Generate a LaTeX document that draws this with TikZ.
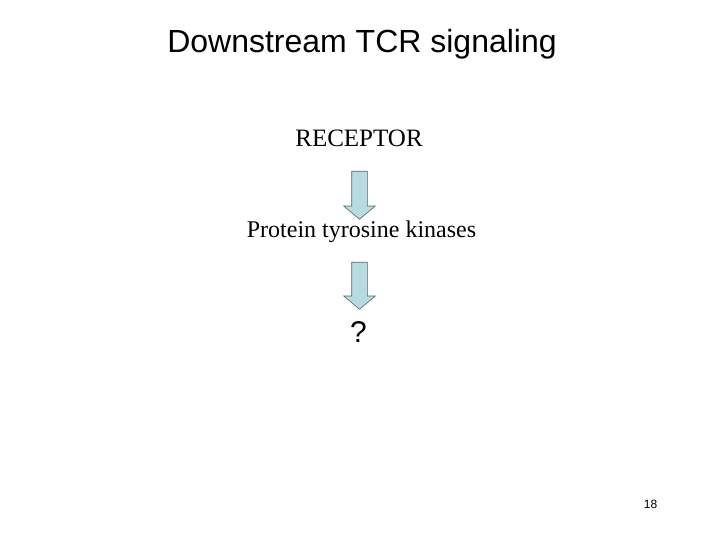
\documentclass[tikz,border=0pt]{standalone}
\usepackage{fontspec}
\setmainfont{Liberation Serif}
\setsansfont{Liberation Sans}
\usepackage{xcolor}
\usepackage{tikz}
\usetikzlibrary{shapes.arrows, positioning}

\definecolor{arrowfill}{RGB}{183,219,224}
\definecolor{arrowline}{RGB}{90,100,105}

\tikzset{
  slidetitle/.style={font=\sffamily\fontsize{32}{36}\selectfont, anchor=base, inner sep=0pt},
  bodytext/.style={font=\rmfamily\fontsize{24}{28}\selectfont, anchor=base, inner sep=0pt},
  downarrow/.style={draw=arrowline, line width=0.6pt, fill=arrowfill, shape=single arrow,
    shape border rotate=270, inner sep=7.5pt, minimum height=48pt,
    single arrow head extend=8pt, single arrow tip angle=100},
}

\begin{document}
\begin{tikzpicture}[x=1pt, y=-1pt]
\useasboundingbox (0,0) rectangle (720,540);
% Title
\node[slidetitle] (title) at (362,53) {Downstream TCR signaling};
% Cascade
\node[bodytext, font=\rmfamily\fontsize{25}{28}\selectfont] (receptor) at (359,147) {RECEPTOR};
\node[downarrow] (arrA) at (359.5,192) {};
\node[bodytext] (ptk) at (361.5,237) {Protein tyrosine kinases};
\node[downarrow, minimum height=47pt] (arrB) at (359.5,282.5) {};
\node[bodytext, font=\sffamily\fontsize{30}{34}\selectfont] (unknown) at (358.5,342) {?};
% Page number
\node[bodytext, font=\sffamily\fontsize{12}{14}\selectfont] (pagenum) at (650.5,508) {18};
\end{tikzpicture}
\end{document}
